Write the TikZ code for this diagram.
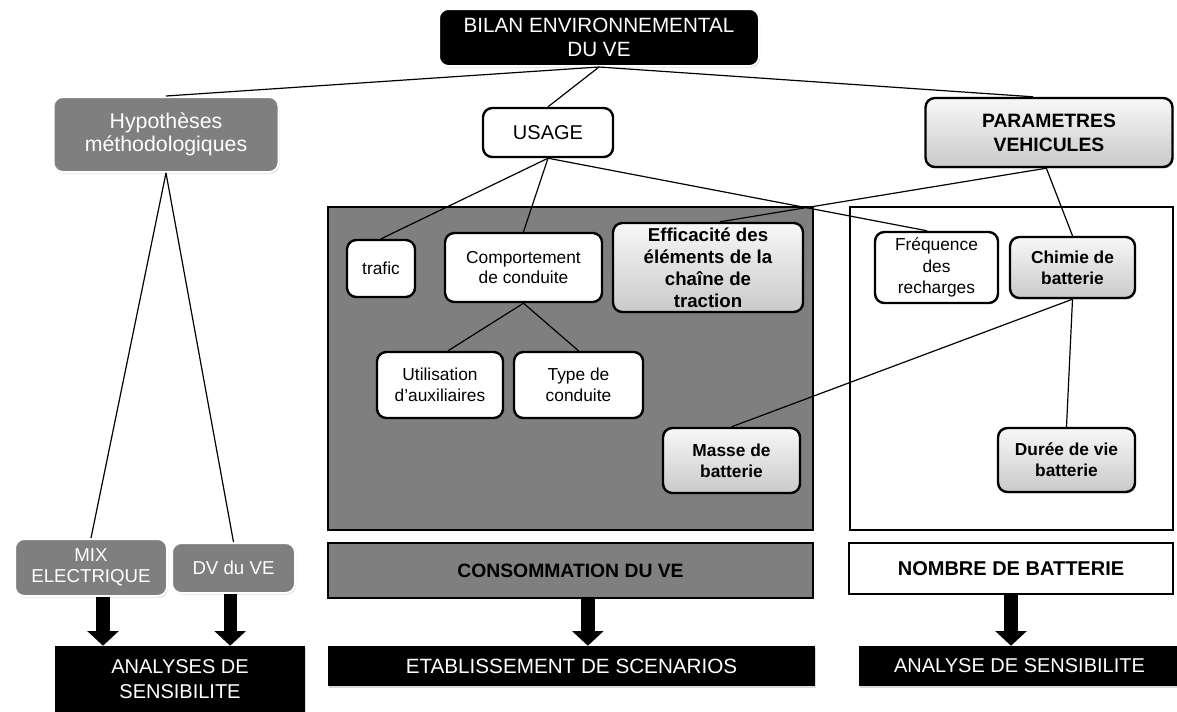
\documentclass[tikz,border=0pt]{standalone}
\usepackage{fontspec}
\setmainfont{Liberation Sans}
\usepackage{xcolor}
\usetikzlibrary{arrows.meta,shadows}
\definecolor{boxgrey}{RGB}{127,127,127}
\tikzset{
  basebox/.style={rounded corners=7pt, align=center, inner sep=0pt},
  darkbox/.style={basebox, fill=black, draw=white, line width=1.5pt, text=white,
    drop shadow={opacity=0.3, shadow xshift=0.8pt, shadow yshift=-1.2pt}},
  greybox/.style={basebox, fill=boxgrey, draw=white, line width=1.5pt, text=white,
    drop shadow={opacity=0.3, shadow xshift=0.8pt, shadow yshift=-1.2pt}},
  whitebox/.style={basebox, fill=white, draw=black, line width=1.8pt,
    font=\fontsize{13}{15.5}\selectfont},
  shadedbox/.style={basebox, top color=gray!6, bottom color=gray!42, draw=black,
    line width=1.8pt, font=\fontsize{13}{15.5}\selectfont\bfseries,
    drop shadow={opacity=0.25, shadow xshift=0.8pt, shadow yshift=-1.2pt}},
  panelbox/.style={draw=black, line width=2.2pt, inner sep=0pt, align=center},
  resultbox/.style={fill=black, text=white, inner sep=0pt, align=center,
    font=\fontsize{15}{18.75}\selectfont,
    drop shadow={opacity=0.3, shadow xshift=0.8pt, shadow yshift=-1.5pt}},
  lnk/.style={line width=0.9pt},
  bigarrw/.style={line width=10pt, -{Triangle[length=11pt, width=23pt]}},
}

\begin{document}
\begin{tikzpicture}[x=0.75pt, y=-0.75pt]
  \useasboundingbox (0,0) rectangle (1177,711);

  % zones
  \node[panelbox, fill=boxgrey, minimum width=363.75pt, minimum height=242.25pt]
    (usagezone) at (570.5,368.5) {};
  \node[panelbox, fill=white, minimum width=242.25pt, minimum height=242.25pt]
    (batzone) at (1011.5,368.5) {};

  % top level
  \node[darkbox, minimum width=240pt, minimum height=42.75pt,
    font=\fontsize{15.5}{17.5}\selectfont] (bilan) at (599,37.5)
    {BILAN ENVIRONNEMENTAL\\DU VE};
  \node[greybox, minimum width=168.75pt, minimum height=56.25pt,
    font=\fontsize{16}{17.5}\selectfont] (hyp) at (166,134.5)
    {Hypothèses\\méthodologiques};
  \node[whitebox, minimum width=97.5pt, minimum height=36.75pt,
    font=\fontsize{15}{17}\selectfont] (usage) at (548,132.5) {USAGE};
  \node[shadedbox, minimum width=185.25pt, minimum height=51.75pt,
    font=\fontsize{14.5}{18}\selectfont\bfseries] (param) at (1049,132.5)
    {PARAMETRES\\VEHICULES};

  % usage zone
  \node[whitebox, minimum width=51pt, minimum height=42.75pt] (trafic)
    at (381,268.5) {trafic};
  \node[whitebox, minimum width=117.75pt, minimum height=51.75pt] (comport)
    at (523.5,267.5) {Comportement\\de conduite};
  \node[shadedbox, minimum width=142.5pt, minimum height=66.75pt,
    font=\fontsize{14}{16.5}\selectfont\bfseries] (effic) at (708,267.5)
    {Efficacité des\\éléments de la\\chaîne de\\traction};
  \node[whitebox, minimum width=94.5pt, minimum height=49.5pt] (utilis)
    at (440,385) {Utilisation\\d'auxiliaires};
  \node[whitebox, minimum width=96.75pt, minimum height=49.5pt] (typec)
    at (578.5,385) {Type de\\conduite};
  \node[shadedbox, minimum width=102.75pt, minimum height=48.75pt] (masse)
    at (731.5,460.5) {Masse de\\batterie};

  % battery zone
  \node[whitebox, minimum width=92.25pt, minimum height=53.25pt,
    font=\fontsize{13}{16}\selectfont] (freq) at (936.5,267.5)
    {Fréquence\\des\\recharges};
  \node[shadedbox, minimum width=93.75pt, minimum height=45.75pt] (chimie)
    at (1072.5,267.5) {Chimie de\\batterie};
  \node[shadedbox, minimum width=102.75pt, minimum height=48pt] (duree)
    at (1066.5,460) {Durée de vie\\batterie};

  % outputs
  \node[greybox, minimum width=114pt, minimum height=42.75pt,
    font=\fontsize{14}{15.5}\selectfont] (mix) at (91,567.5)
    {MIX\\ELECTRIQUE};
  \node[greybox, minimum width=92.25pt, minimum height=37.5pt,
    font=\fontsize{14}{15.5}\selectfont] (dvve) at (233.5,568) {DV du VE};
  \node[panelbox, fill=boxgrey, minimum width=363.75pt, minimum height=41.25pt,
    font=\fontsize{14.5}{17}\selectfont\bfseries] (conso) at (570.5,570.5)
    {CONSOMMATION DU VE};
  \node[panelbox, fill=white, minimum width=243pt, minimum height=38.25pt,
    font=\fontsize{15}{17}\selectfont\bfseries] (nombre) at (1011,568.5)
    {NOMBRE DE BATTERIE};

  \node[resultbox, minimum width=187.5pt, minimum height=49.5pt] (analyses)
    at (180,679) {ANALYSES DE\\SENSIBILITE};
  \node[resultbox, minimum width=365.25pt, minimum height=30pt,
    font=\fontsize{15.5}{18}\selectfont] (etab) at (571.5,666)
    {ETABLISSEMENT DE SCENARIOS};
  \node[resultbox, minimum width=240.75pt, minimum height=30pt] (analyse)
    at (1019.5,666) {ANALYSE DE SENSIBILITE};

  % links
  \draw[lnk] (bilan.south) -- (hyp.north);
  \draw[lnk] (bilan.south) -- (usage.north);
  \draw[lnk] (bilan.south) -- ([xshift=-12pt]param.north);
  \draw[lnk] (usage.south) -- (trafic.north);
  \draw[lnk] (usage.south) -- (comport.north);
  \draw[lnk] (usage.south) -- ([xshift=-7pt]freq.north);
  \draw[lnk] ([xshift=-2pt]param.south) -- ([xshift=9pt]effic.north);
  \draw[lnk] ([xshift=-2pt]param.south) -- (chimie.north);
  \draw[lnk] (comport.south) -- ([xshift=6pt]utilis.north);
  \draw[lnk] (comport.south) -- (typec.north);
  \draw[lnk] (chimie.south) -- (masse.north);
  \draw[lnk] (chimie.south) -- (duree.north);
  \draw[lnk] (hyp.south) -- (mix.north);
  \draw[lnk] (hyp.south) -- (dvve.north);

  % big arrows
  \draw[bigarrw] ([xshift=9pt]mix.south) -- ([xshift=9pt]mix.south |- analyses.north);
  \draw[bigarrw] ([xshift=-2.5pt]dvve.south) -- ([xshift=-2.5pt]dvve.south |- analyses.north);
  \draw[bigarrw] ([xshift=13pt]conso.south) -- ([xshift=13pt]conso.south |- etab.north);
  \draw[bigarrw] (nombre.south) -- (nombre.south |- analyse.north);
\end{tikzpicture}
\end{document}
